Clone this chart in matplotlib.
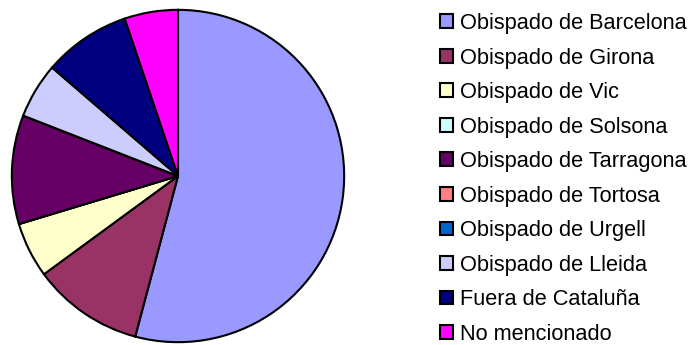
import matplotlib.pyplot as plt

plt.rcParams['font.family'] = ['Liberation Sans', 'DejaVu Sans']

labels = ["Obispado de Barcelona", "Obispado de Girona", "Obispado de Vic",
          "Obispado de Solsona", "Obispado de Tarragona", "Obispado de Tortosa",
          "Obispado de Urgell", "Obispado de Lleida", "Fuera de Cataluña",
          "No mencionado"]
values = [54.2, 10.8, 5.4, 0, 10.6, 0, 0, 5.4, 8.5, 5.2]
colors = ["#9999FF", "#993366", "#FFFFCC", "#CCFFFF", "#660066",
          "#FF8080", "#0066CC", "#CCCCFF", "#000080", "#FF00FF"]

fig = plt.figure(figsize=(6.96, 3.45), dpi=100)
ax = fig.add_axes([11/696, 2/345, 334/696, 334/345])

wedges, _ = ax.pie(values, colors=colors, startangle=90, counterclock=False,
                   wedgeprops=dict(edgecolor="black", linewidth=1.5))
ax.set_xlim(-1.005, 1.005)
ax.set_ylim(-1.005, 1.005)
ax.set_aspect("equal")

leg = fig.legend(wedges, labels, loc="upper left",
                 bbox_to_anchor=(440/696, 1 - 13/345), frameon=False,
                 fontsize=15.7, handlelength=0.6, handleheight=0.6,
                 handletextpad=0.32, labelspacing=0.62, borderpad=0,
                 borderaxespad=0)
for h in leg.legend_handles:
    h.set_linewidth(1.5)
    h.set_edgecolor("black")

fig.savefig("out.png", dpi=100)
